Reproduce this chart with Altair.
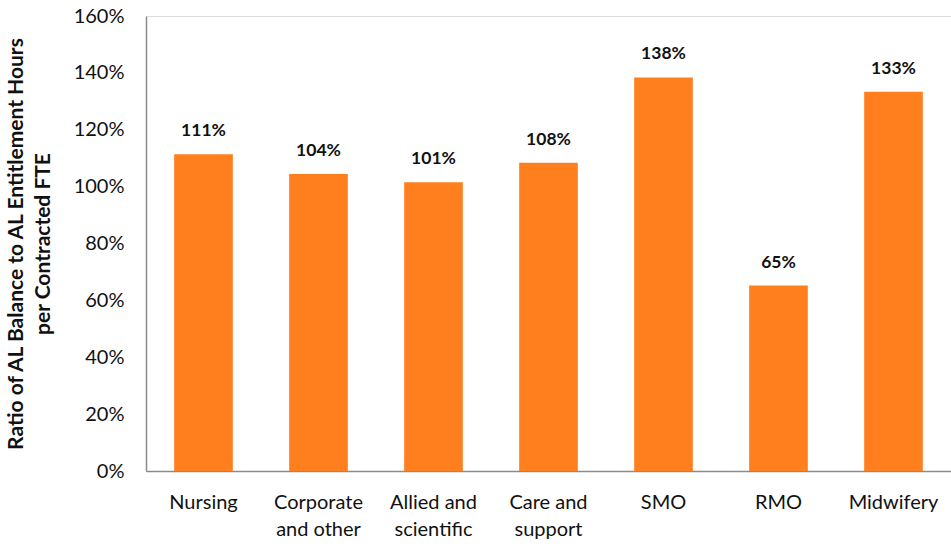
import altair as alt
import pandas as pd

categories = ["Nursing", "Corporate|and other", "Allied and|scientific", "Care and|support", "SMO", "RMO", "Midwifery"]
values = [111.4, 104.4, 101.5, 108.4, 138.4, 65.2, 133.4]

df = pd.DataFrame({"cat": categories, "val": [v / 100 for v in values]})

FONT = "Lato"

x = alt.X("cat:N", sort=categories,
          scale=alt.Scale(paddingInner=0.49, paddingOuter=0.245),
          axis=alt.Axis(title=None, labelAngle=0, labelExpr="split(datum.value, '|')",
                        labelFontSize=20, labelColor="#111111", labelFont=FONT,
                        labelPadding=21, labelLineHeight=27, ticks=False,
                        domainColor="#8c8c8c", domainWidth=1.5, labelBaseline="top"))

y = alt.Y("val:Q", scale=alt.Scale(domain=[0, 1.6], nice=False),
          axis=alt.Axis(title=["Ratio of AL Balance to AL Entitlement Hours", "per Contracted FTE"],
                        titleFontSize=21, titleFont=FONT, titleFontWeight="bold", titleColor="#111111",
                        titlePadding=20, titleLineHeight=27,
                        format=".0%", values=[0, 0.2, 0.4, 0.6, 0.8, 1.0, 1.2, 1.4, 1.6],
                        labelFontSize=20, labelFont=FONT, labelColor="#111111", labelPadding=22,
                        ticks=False, grid=False, domainColor="#8c8c8c", domainWidth=1.5))

bars = alt.Chart(df).mark_bar(color="#FF7F1E").encode(x=x, y=y)
labels = alt.Chart(df).mark_text(baseline="bottom", dy=-14, fontWeight="bold", fontSize=17.5,
                                 font=FONT, color="#111111").encode(
    x=alt.X("cat:N", sort=categories), y="val:Q", text=alt.Text("val:Q", format=".0%"))

chart = (bars + labels).properties(
    width=805, height=455,
    autosize=alt.AutoSizeParams(type="none"),
    padding={"left": 146, "top": 16, "right": 0, "bottom": 75},
).configure_view(stroke=None).configure(background="white")

chart.save("out.html", embed_options={"renderer": "svg", "actions": False})
